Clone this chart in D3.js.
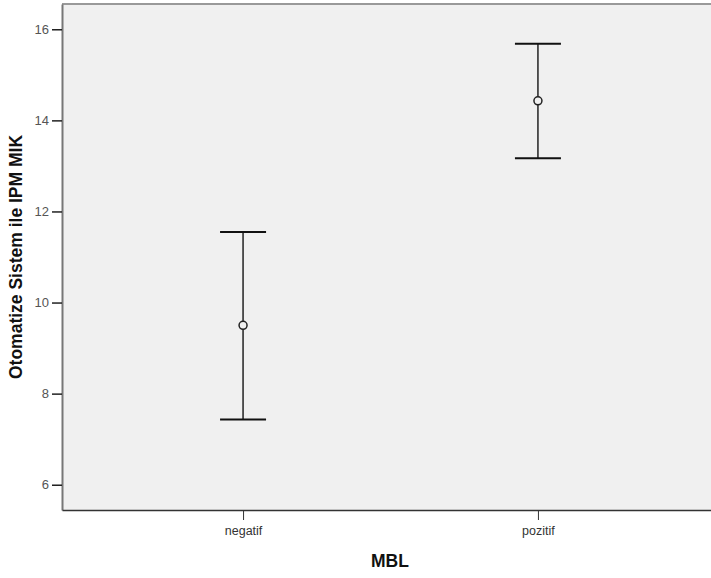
<!DOCTYPE html>
<html>
<head>
<meta charset="utf-8">
<script src="https://cdn.jsdelivr.net/npm/d3@7"></script>
<style>
  body { margin: 0; background: #fff; }
  text { font-family: "Liberation Sans", Arial, sans-serif; }
</style>
</head>
<body>
<div id="chart-area"></div>
<script>
// data
const groups = ["negatif", "pozitif"]
const means = [9.50, 14.43]
const lower = [7.43, 13.17]
const upper = [11.55, 15.68]
const yTicks = [6, 8, 10, 12, 14, 16]

const W = 711, H = 578
const PLOT = { LEFT: 62, TOP: 4, RIGHT: 719, BOTTOM: 510 }

const svg = d3.select("#chart-area").append("svg")
	.attr("width", W)
	.attr("height", H)

// scales
const x = d3.scalePoint()
	.domain(groups)
	.range([PLOT.LEFT, PLOT.RIGHT])
	.padding(0.614)
const y = d3.scaleLinear()
	.domain([5.445, 16.555])
	.range([PLOT.BOTTOM, PLOT.TOP])

// plot background
svg.append("rect")
	.attr("x", PLOT.LEFT)
	.attr("y", PLOT.TOP)
	.attr("width", PLOT.RIGHT - PLOT.LEFT)
	.attr("height", PLOT.BOTTOM - PLOT.TOP)
	.attr("fill", "#f0f0f0")

// top border
svg.append("line")
	.attr("x1", PLOT.LEFT).attr("x2", W)
	.attr("y1", PLOT.TOP).attr("y2", PLOT.TOP)
	.attr("stroke", "#999").attr("stroke-width", 2)

// axes
const yAxis = svg.append("g")
	.attr("transform", `translate(${PLOT.LEFT}, 0)`)
	.call(d3.axisLeft(y).tickValues(yTicks).tickSize(10).tickSizeOuter(0).tickPadding(3))
yAxis.select(".domain").attr("stroke", "#777").attr("stroke-width", 2)
yAxis.selectAll(".tick line").attr("stroke", "#222").attr("stroke-width", 1.5)
yAxis.selectAll(".tick text").attr("fill", "#555").style("font-size", "13px")

const xAxis = svg.append("g")
	.attr("transform", `translate(0, ${PLOT.BOTTOM})`)
	.call(d3.axisBottom(x).tickSize(10).tickSizeOuter(0).tickPadding(6))
xAxis.select(".domain").attr("stroke", "#333").attr("stroke-width", 1.5)
xAxis.selectAll(".tick line").attr("stroke", "#333").attr("stroke-width", 1)
xAxis.selectAll(".tick text").attr("fill", "#333").style("font-size", "12.5px")

// axis titles
svg.append("text")
	.attr("transform", `translate(22, 257) rotate(-90)`)
	.attr("text-anchor", "middle")
	.style("font-size", "17.5px")
	.style("font-weight", "bold")
	.attr("fill", "#111")
	.text("Otomatize Sistem ile IPM MIK")

svg.append("text")
	.attr("x", 390)
	.attr("y", 567)
	.attr("text-anchor", "middle")
	.style("font-size", "17.5px")
	.style("font-weight", "bold")
	.attr("fill", "#111")
	.text("MBL")

// error bars
const bars = svg.append("g")
	.selectAll("g")
	.data(groups)
	.join("g")

bars.append("line")
	.attr("x1", d => x(d)).attr("x2", d => x(d))
	.attr("y1", (d, i) => y(upper[i]))
	.attr("y2", (d, i) => y(lower[i]))
	.attr("stroke", "#222").attr("stroke-width", 1.5)

const CAP = 23
bars.append("line")
	.attr("x1", d => x(d) - CAP).attr("x2", d => x(d) + CAP)
	.attr("y1", (d, i) => y(upper[i])).attr("y2", (d, i) => y(upper[i]))
	.attr("stroke", "#111").attr("stroke-width", 2)
bars.append("line")
	.attr("x1", d => x(d) - CAP).attr("x2", d => x(d) + CAP)
	.attr("y1", (d, i) => y(lower[i])).attr("y2", (d, i) => y(lower[i]))
	.attr("stroke", "#111").attr("stroke-width", 2)

bars.append("circle")
	.attr("cx", d => x(d))
	.attr("cy", (d, i) => y(means[i]))
	.attr("r", 4)
	.attr("fill", "#f0f0f0")
	.attr("stroke", "#222")
	.attr("stroke-width", 1.5)
</script>
</body>
</html>
